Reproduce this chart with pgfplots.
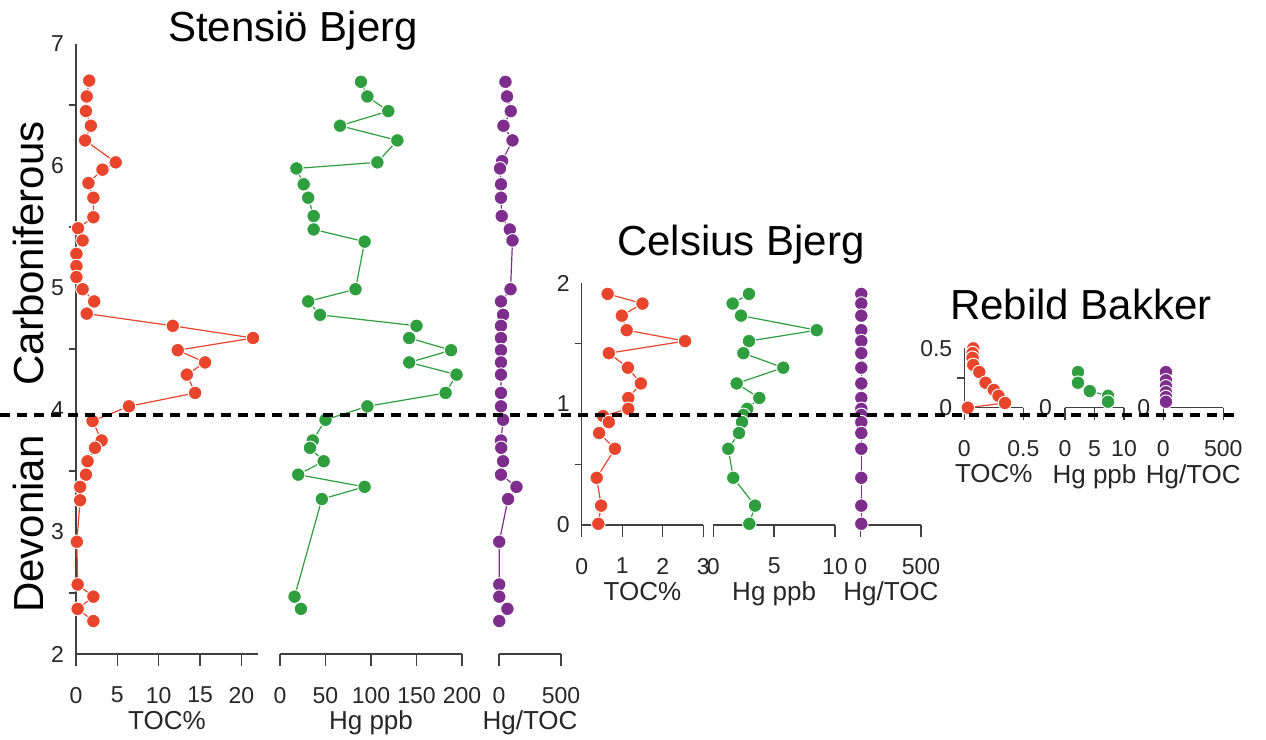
\documentclass[border=0pt]{standalone}
\usepackage{fontspec}
\setmainfont{Liberation Sans}
\usepackage{pgfplots}
\pgfplotsset{compat=1.18}

\definecolor{tocred}{HTML}{E8452C}
\definecolor{hggreen}{HTML}{2E9E3E}
\definecolor{ratiopurple}{HTML}{7D2D8C}
\definecolor{axgray}{HTML}{404040}

\pgfplotsset{
  panel/.style={
    scale only axis, anchor=south west, clip=false,
    axis x line*=bottom,
    axis line style={axgray, line width=0.7pt, -},
    tick style={axgray, line width=0.7pt},
    tick align=outside, major tick length=6pt, minor tick length=3.5pt,
    every major y tick/.style={draw=none},
    /pgf/number format/assume math mode=true,
    ticklabel style={font=\fontsize{11.5}{13}\selectfont, text=black!85},
    xticklabel style={yshift=-7pt},
    yticklabel style={xshift=3.5pt},
    xlabel style={font=\fontsize{13}{15}\selectfont, text=black!85, yshift=3pt},
  },
  firstpanel/.style={panel, axis y line*=left},
  otherpanel/.style={panel, axis y line=none},
  series/.style={line width=0.6pt, color=#1, mark=*, mark size=3.4pt,
    mark options={fill=#1, draw=white, line width=0.5pt}},
}
\newcommand{\bigtitle}{\fontsize{21}{24}\selectfont}

\begin{document}
\begin{tikzpicture}
\useasboundingbox (0,0) rectangle (633pt,370pt);

% ---------------- Stensio Bjerg ----------------
\begin{axis}[firstpanel, at={(38pt,43pt)}, width=91pt, height=305pt,
  xmin=0, xmax=22, ymin=2, ymax=7,
  xtick={0,5,10,15,20}, ytick={2,...,7}, minor ytick={2.5,3.5,...,6.5},
  xlabel={TOC\%}]
\addplot[series=tocred] coordinates {
  (1.6,6.70)(1.3,6.57)(1.2,6.45)(1.8,6.33)(1.1,6.21)(4.8,6.03)(3.2,5.97)
  (1.5,5.86)(2.1,5.74)(2.1,5.58)(0.25,5.49)(0.8,5.39)(0.05,5.28)(0.05,5.18)
  (0.05,5.09)(0.8,4.99)(2.2,4.89)(1.3,4.79)(11.7,4.69)(21.4,4.59)(12.3,4.49)
  (15.6,4.39)(13.4,4.29)(14.4,4.14)(6.4,4.03)(2.0,3.91)(3.1,3.75)(2.3,3.69)
  (1.4,3.58)(1.2,3.47)(0.5,3.37)(0.5,3.26)(0.1,2.92)(0.2,2.57)(2.1,2.47)
  (0.2,2.37)(2.1,2.27)};
\coordinate (dl) at (axis cs:0,3.96);
\end{axis}

\begin{axis}[otherpanel, at={(140pt,43pt)}, width=91pt, height=305pt,
  xmin=0, xmax=200, ymin=2, ymax=7,
  xtick={0,50,100,150,200}, xlabel={Hg ppb}]
\addplot[series=hggreen] coordinates {
  (89,6.69)(96,6.57)(119,6.45)(66,6.33)(129,6.21)(107,6.03)(18,5.98)
  (26,5.85)(31,5.74)(37,5.59)(37,5.48)(93,5.38)(83,4.99)(31,4.89)(44,4.78)
  (150,4.69)(142,4.59)(188,4.49)(142,4.39)(194,4.29)(182,4.14)(96,4.03)
  (50,3.92)(36,3.75)(33,3.69)(48,3.58)(20,3.47)(93,3.37)(46,3.27)
  (16,2.47)(23,2.37)};
\end{axis}

\begin{axis}[otherpanel, at={(249.5pt,43pt)}, width=31pt, height=305pt,
  xmin=0, xmax=500, ymin=2, ymax=7,
  xtick={0,500}, xlabel={Hg/TOC}]
\addplot[series=ratiopurple] coordinates {
  (52,6.69)(65,6.57)(95,6.45)(36,6.33)(109,6.21)(25,6.04)(8,5.98)(16,5.85)
  (16,5.74)(22,5.59)(87,5.48)(109,5.39)(93,4.99)(16,4.89)(33,4.78)(16,4.69)
  (16,4.59)(16,4.49)(16,4.39)(16,4.29)(16,4.14)(16,4.03)(33,3.92)(16,3.75)
  (18,3.69)(33,3.58)(16,3.47)(141,3.37)(73,3.27)(2,2.92)(2,2.57)(2,2.47)
  (68,2.37)(2,2.27)};
\end{axis}

% ---------------- Celsius Bjerg ----------------
\begin{axis}[firstpanel, at={(290.85pt,107.5pt)}, width=60.8pt, height=121pt,
  xmin=0, xmax=3, ymin=0, ymax=2,
  xtick={0,1,2,3}, ytick={0,1,2}, minor ytick={0.5,1.5},
  xlabel={TOC\%}]
\addplot[series=tocred] coordinates {
  (0.64,1.91)(1.50,1.83)(0.99,1.73)(1.11,1.61)(2.55,1.52)(0.67,1.42)
  (1.14,1.30)(1.46,1.17)(1.15,1.05)(1.15,0.96)(0.53,0.90)(0.67,0.85)
  (0.43,0.76)(0.82,0.63)(0.37,0.39)(0.48,0.16)(0.41,0.01)};
\end{axis}

\begin{axis}[otherpanel, at={(356.65pt,107.5pt)}, width=60.85pt, height=121pt,
  xmin=0, xmax=10, ymin=0, ymax=2,
  xtick={0,5,10}, xlabel={Hg ppb}]
\addplot[series=hggreen] coordinates {
  (2.93,1.91)(1.59,1.83)(2.28,1.73)(8.5,1.61)(2.93,1.52)(2.47,1.42)
  (5.75,1.30)(1.92,1.17)(3.78,1.05)(2.79,0.96)(2.47,0.91)(2.36,0.85)
  (2.11,0.76)(1.23,0.63)(1.64,0.39)(3.43,0.16)(2.96,0.01)};
\end{axis}

\begin{axis}[otherpanel, at={(430.35pt,107.5pt)}, width=30.15pt, height=121pt,
  xmin=0, xmax=500, ymin=0, ymax=2,
  xtick={0,500}, xlabel={Hg/TOC}]
\addplot[series=ratiopurple] coordinates {
  (5,1.91)(5,1.83)(5,1.73)(5,1.61)(5,1.52)(5,1.42)(5,1.30)(5,1.17)(5,1.05)
  (5,0.96)(5,0.91)(5,0.85)(5,0.76)(5,0.63)(5,0.39)(5,0.16)(5,0.01)};
\end{axis}

% ---------------- Rebild Bakker ----------------
\begin{axis}[firstpanel, at={(482.15pt,166.15pt)}, width=29.5pt, height=29.7pt,
  xmin=0, xmax=0.5, ymin=0, ymax=0.5,
  xtick={0,0.5}, ytick={0,0.5}, minor ytick={0.25},
  xlabel={TOC\%}]
\addplot[series=tocred] coordinates {
  (0.076,0.50)(0.07,0.46)(0.07,0.42)(0.076,0.36)(0.127,0.30)(0.18,0.21)
  (0.25,0.15)(0.29,0.10)(0.345,0.04)(0.03,0.0)};
\end{axis}

\begin{axis}[otherpanel, at={(532.5pt,166.15pt)}, width=29.5pt, height=29.7pt,
  xmin=0, xmax=10, ymin=0, ymax=0.5,
  xtick={0,5,10}, xlabel={Hg ppb}]
\addplot[series=hggreen] coordinates {
  (2.2,0.30)(2.2,0.21)(4.2,0.14)(7.3,0.10)(7.3,0.05)};
\node[anchor=east, font=\fontsize{11.5}{13}\selectfont, text=black!85]
  at (axis cs:0,0) [xshift=-3pt] {0};
\end{axis}

\begin{axis}[otherpanel, at={(581.65pt,166.15pt)}, width=30pt, height=29.7pt,
  xmin=0, xmax=500, ymin=0, ymax=0.5,
  xtick={0,500}, xlabel={Hg/TOC}]
\addplot[series=ratiopurple] coordinates {
  (22,0.30)(22,0.23)(22,0.18)(22,0.13)(22,0.09)(22,0.05)};
\node[anchor=east, font=\fontsize{11.5}{13}\selectfont, text=black!85]
  at (axis cs:0,0) [xshift=-3pt] {0};
\end{axis}

% boundary line and titles
\draw[black, line width=2pt, dash pattern=on 5pt off 3.5pt]
  ([xshift=-38pt]dl) -- ([xshift=579pt]dl);

\node[font=\bigtitle, anchor=base] at (146.5pt,349pt) {Stensiö Bjerg};
\node[font=\bigtitle, anchor=base] at (370.4pt,242pt) {Celsius Bjerg};
\node[font=\bigtitle, anchor=base] at (540.5pt,210.3pt) {Rebild Bakker};
\node[font=\bigtitle, anchor=base, rotate=90] at (21.5pt,243.25pt) {Carboniferous};
\node[font=\bigtitle, anchor=base, rotate=90] at (21.5pt,108pt) {Devonian};
\end{tikzpicture}
\end{document}
